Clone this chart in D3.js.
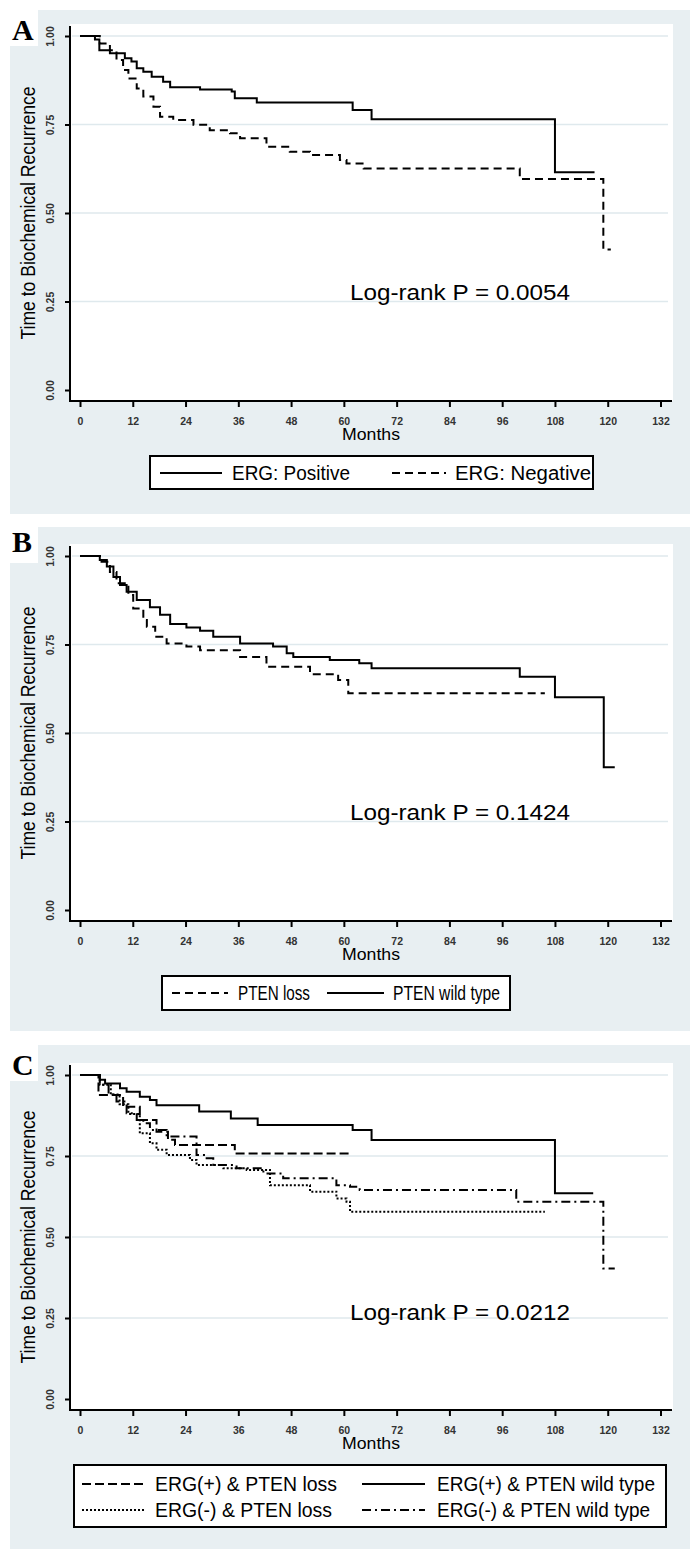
<!DOCTYPE html>
<html>
<head>
<meta charset="utf-8">
<script src="https://cdn.jsdelivr.net/npm/d3@7/dist/d3.min.js"></script>
<style>
body{margin:0;background:#fff;}
svg{display:block;font-family:"Liberation Sans",Arial,sans-serif;}
</style>
</head>
<body>
<svg id="fig"></svg>
<script>
// axis ticks
const monthTicks = [0,12,24,36,48,60,72,84,96,108,120,132];
const survTicks = [0,0.25,0.5,0.75,1];

// panel A: [month, survival]
const ergPositive = [[0,1],[3.4,0.99],[4.4,0.96],[6.8,0.951],[10.2,0.937],[11.7,0.928],[12.9,0.909],[14.4,0.899],[16.3,0.885],[18.9,0.871],[20.5,0.855],[27.3,0.849],[34.5,0.843],[35.2,0.824],[40.2,0.812],[62,0.791],[66.3,0.765],[108,0.615],[117,0.615]];
const ergNegative = [[0,1],[4.5,0.979],[6.8,0.96],[8.3,0.932],[9.8,0.904],[11,0.88],[12.9,0.852],[14.4,0.829],[16.7,0.8],[18.2,0.772],[21.2,0.763],[25.8,0.749],[29.5,0.734],[34.1,0.725],[36.4,0.711],[42.4,0.687],[47.7,0.673],[52.3,0.664],[59.1,0.65],[60.6,0.64],[64.5,0.626],[100,0.596],[119,0.397],[120.7,0.397]];

// panel B
const ptenLoss = [[0,1],[4.9,0.984],[6.8,0.955],[8.3,0.923],[11,0.89],[12.1,0.852],[14.4,0.819],[15.2,0.8],[17.1,0.772],[19.7,0.753],[24.2,0.744],[27.3,0.734],[36.4,0.715],[42.4,0.687],[52.3,0.666],[58.7,0.65],[61,0.612],[105.7,0.612]];
const ptenWild = [[0,1],[4.5,0.989],[6.1,0.97],[7.6,0.941],[9.1,0.918],[10.6,0.899],[12.9,0.876],[15.9,0.855],[18.2,0.834],[20.5,0.808],[24.2,0.798],[27.3,0.789],[30.3,0.772],[36.4,0.753],[43.9,0.744],[47,0.725],[48.5,0.715],[56.8,0.706],[63.5,0.697],[66.3,0.683],[100,0.659],[108,0.601],[119.1,0.403],[121.6,0.403]];

// panel C
const posLoss = [[0,1],[4.2,0.938],[9.8,0.902],[13.6,0.861],[17.4,0.825],[20,0.8],[21.6,0.784],[35.2,0.758],[61.4,0.758]];
const posWild = [[0,1],[4.5,0.985],[5.7,0.974],[9.1,0.959],[10.6,0.948],[13.6,0.933],[15.9,0.923],[17.4,0.907],[27.1,0.887],[34.3,0.866],[40.4,0.846],[62,0.83],[66.3,0.799],[108,0.635],[116.7,0.635]];
const negLoss = [[0,1],[4.5,0.97],[7,0.94],[9,0.91],[11,0.88],[13.6,0.82],[15.9,0.789],[17.4,0.769],[19.7,0.753],[25,0.738],[26.5,0.722],[32.6,0.712],[37.9,0.707],[43.2,0.66],[52.3,0.64],[58.3,0.619],[60.6,0.609],[61.4,0.578],[105.7,0.578]];
const negWild = [[0,1],[4.5,0.97],[6.5,0.94],[8.3,0.918],[10.6,0.882],[12.9,0.861],[14.4,0.851],[15.9,0.83],[19.7,0.81],[26.5,0.753],[28.8,0.743],[30.3,0.722],[35.6,0.712],[41.7,0.696],[46.2,0.681],[58.3,0.66],[61.4,0.655],[63.6,0.645],[99.2,0.609],[119,0.403],[121.6,0.403]];

const pValues = ["0.0054","0.1424","0.0212"];

const svg = d3.select("#fig").attr("width",700).attr("height",1557);

class KM_panel{
    constructor(config,series){
        this.config = config;
        this.series = series;
        this.init();
        this.render();
    }
    init(){
        let self = this;
        let c = self.config;
        self.g = svg.append("g");
        self.xscale = d3.scaleLinear().domain([0,132]).range([80,660.5]);
        self.yscale = d3.scaleLinear().domain([0,1]).range([c.yZero,c.yOne]);
        self.axisY = c.yZero+11;
        self.plotTop = c.yOne-12;
    }
    render(){
        let self = this;
        let c = self.config;
        let g = self.g;

        g.append("rect").attr("x",10).attr("y",c.top).attr("width",680).attr("height",504).attr("fill","#e8eff2");
        g.append("rect").attr("x",0).attr("y",c.top-10).attr("width",38).attr("height",46).attr("fill","#fff");
        g.append("text").attr("x",12).attr("y",c.letterY)
            .attr("font-family","'Liberation Serif','Times New Roman',serif")
            .attr("font-size",30).attr("font-weight","bold").text(c.letter);

        g.append("rect").attr("x",70).attr("y",self.plotTop)
            .attr("width",603).attr("height",self.axisY-self.plotTop).attr("fill","#fff");

        g.selectAll(".grid").data(survTicks.filter(d=>d>0)).enter().append("line")
            .attr("x1",72).attr("x2",668)
            .attr("y1",d=>self.yscale(d)).attr("y2",d=>self.yscale(d))
            .attr("stroke","#dfe9ed").attr("stroke-width",1.5);

        // y axis
        let ya = g.append("g").attr("transform","translate(70,0)")
            .call(d3.axisLeft(self.yscale).tickValues(survTicks).tickSize(5).tickFormat(d3.format(".2f")));
        ya.select(".domain").remove();
        ya.selectAll("line").attr("stroke","#000").attr("stroke-width",2);
        ya.selectAll("text")
            .attr("transform","rotate(-90)")
            .attr("x",0).attr("y",-20).attr("dy","0.35em")
            .attr("text-anchor","middle")
            .attr("font-size",10.5).attr("font-weight","bold").attr("fill","#333")
            .attr("font-family","'Liberation Sans',Arial,sans-serif");
        g.append("line").attr("x1",70).attr("x2",70).attr("y1",self.plotTop+2).attr("y2",self.axisY)
            .attr("stroke","#000").attr("stroke-width",2);

        // x axis
        let xa = g.append("g").attr("transform",`translate(0,${self.axisY})`)
            .call(d3.axisBottom(self.xscale).tickValues(monthTicks).tickSize(6).tickPadding(11));
        xa.select(".domain").remove();
        xa.selectAll("line").attr("stroke","#000").attr("stroke-width",2);
        xa.selectAll("text")
            .attr("font-size",10.5).attr("font-weight","bold").attr("fill","#333")
            .attr("font-family","'Liberation Sans',Arial,sans-serif");
        g.append("line").attr("x1",69).attr("x2",672).attr("y1",self.axisY).attr("y2",self.axisY)
            .attr("stroke","#000").attr("stroke-width",2);

        g.append("text").attr("x",371).attr("y",self.axisY+39)
            .attr("text-anchor","middle").attr("font-size",17)
            .attr("textLength",58).attr("lengthAdjust","spacingAndGlyphs")
            .text("Months");

        g.append("text")
            .attr("transform",`translate(28,${(c.yOne+c.yZero)/2}) rotate(-90)`)
            .attr("text-anchor","middle").attr("dy","0.35em")
            .attr("font-size",20)
            .attr("textLength",253).attr("lengthAdjust","spacingAndGlyphs")
            .text("Time to Biochemical Recurrence");

        // curves
        let line = d3.line()
            .x(d=>self.xscale(d[0]))
            .y(d=>self.yscale(d[1]))
            .curve(d3.curveStepAfter);
        g.selectAll(".km").data(self.series).enter().append("path")
            .attr("d",d=>line(d.values))
            .attr("fill","none").attr("stroke","#000").attr("stroke-width",2)
            .attr("stroke-dasharray",d=>d.dash);

        g.append("text")
            .attr("x",self.xscale(61.4)).attr("y",self.yscale(c.pY))
            .attr("font-size",22)
            .attr("textLength",220).attr("lengthAdjust","spacingAndGlyphs")
            .text("Log-rank P = "+c.p);

        // legend
        let lb = c.legendBox;
        g.append("rect").attr("x",lb.x).attr("y",lb.y).attr("width",lb.w).attr("height",lb.h)
            .attr("fill","#fff").attr("stroke","#000").attr("stroke-width",2);
        let items = g.selectAll(".leg").data(self.series).enter().append("g");
        items.append("line")
            .attr("x1",d=>d.leg.x).attr("x2",d=>d.leg.x+d.leg.lw)
            .attr("y1",d=>d.leg.y).attr("y2",d=>d.leg.y)
            .attr("stroke","#000").attr("stroke-width",2)
            .attr("stroke-dasharray",d=>d.dash);
        items.append("text")
            .attr("x",d=>d.leg.tx).attr("y",d=>d.leg.y+7)
            .attr("font-size",20)
            .attr("textLength",d=>d.leg.tl).attr("lengthAdjust","spacingAndGlyphs")
            .text(d=>d.name);
    }
}

new KM_panel({top:10,letter:"A",letterY:40,yOne:36,yZero:390,p:pValues[0],pY:0.255,
        legendBox:{x:150,y:456,w:443,h:33}},
    [{name:"ERG: Positive",values:ergPositive,dash:null,leg:{x:160,lw:62,y:473,tx:232,tl:118}},
     {name:"ERG: Negative",values:ergNegative,dash:"8,5",leg:{x:392,lw:54,y:473,tx:455,tl:136}}]);

new KM_panel({top:527,letter:"B",letterY:552,yOne:556,yZero:910,p:pValues[1],pY:0.255,
        legendBox:{x:162,y:976,w:348,h:34}},
    [{name:"PTEN loss",values:ptenLoss,dash:"8,5",leg:{x:172,lw:56,y:993,tx:238,tl:72}},
     {name:"PTEN wild type",values:ptenWild,dash:null,leg:{x:327,lw:57,y:993,tx:393,tl:107}}]);

new KM_panel({top:1045,letter:"C",letterY:1075,yOne:1075,yZero:1399,p:pValues[2],pY:0.245,
        legendBox:{x:74,y:1465,w:592,h:62}},
    [{name:"ERG(+) & PTEN loss",values:posLoss,dash:"9,4",leg:{x:82,lw:63,y:1484,tx:155,tl:182}},
     {name:"ERG(+) & PTEN wild type",values:posWild,dash:null,leg:{x:362,lw:63,y:1484,tx:437,tl:218}},
     {name:"ERG(-) & PTEN loss",values:negLoss,dash:"2,2",leg:{x:82,lw:63,y:1510,tx:155,tl:177}},
     {name:"ERG(-) & PTEN wild type",values:negWild,dash:"9,4,2,4",leg:{x:362,lw:63,y:1510,tx:437,tl:213}}]);
</script>
</body>
</html>
